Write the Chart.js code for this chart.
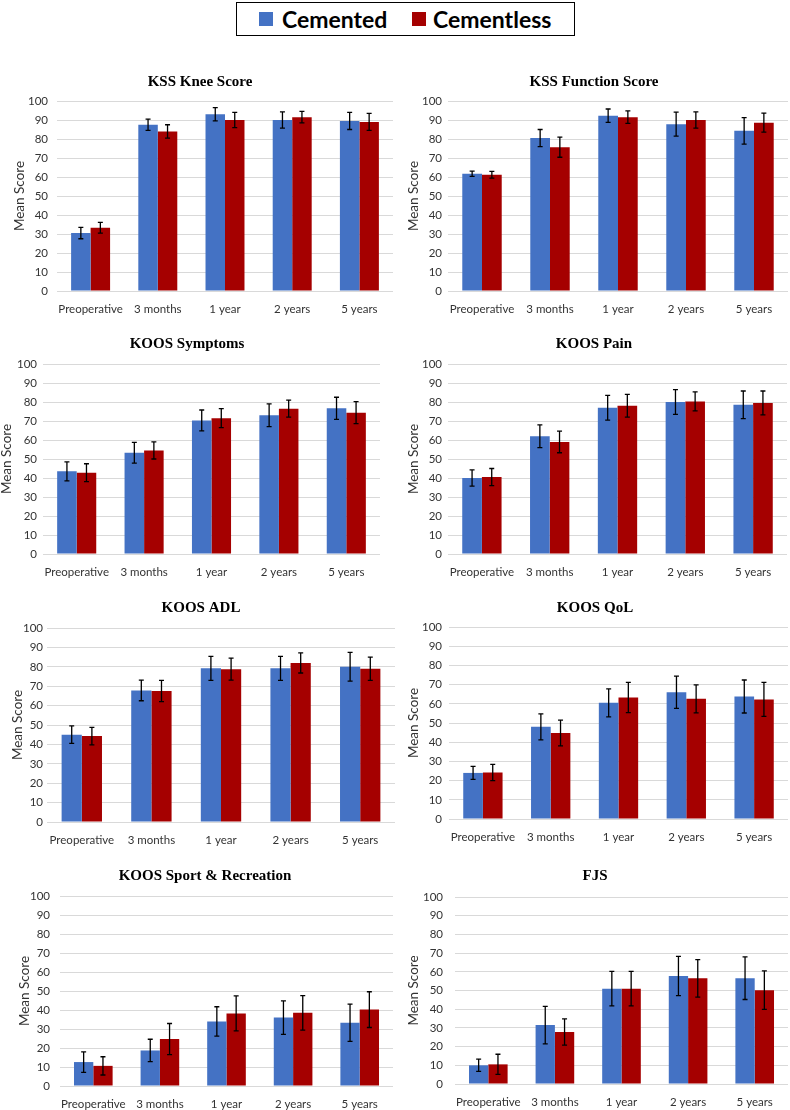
<!DOCTYPE html>
<html>
<head>
<meta charset="utf-8">
<script src="https://cdn.jsdelivr.net/npm/chart.js@4"></script>
<style>
body { margin: 0; background: #fff; width: 790px; height: 1110px; position: relative; overflow: hidden; }
.panel { position: absolute; }
#legend { position: absolute; left: 236px; top: 2px; width: 337px; height: 32px; border: 1px solid #000;
  font-family: Lato, sans-serif; font-weight: bold; font-size: 23px; color: #000; }
#legend span { position: absolute; }
.sw { width: 14px; height: 14px; top: 9px; }
.lb { top: 0px; line-height: 32px; }
</style>
</head>
<body>
<div id="legend">
  <span class="sw" style="left:22px;background:#4472C4"></span><span class="lb" style="left:45px">Cemented</span>
  <span class="sw" style="left:175px;background:#A50000"></span><span class="lb" style="left:196px">Cementless</span>
</div>
<script>
var categories = ['Preoperative', '3 months', '1 year', '2 years', '5 years'];

// KSS Knee Score
var kneeCem = [30.5, 87.5, 93, 90, 89.5];
var kneeCemErr = [3, 3, 3.5, 4.3, 4.5];
var kneeCl = [33.3, 84, 90, 91.5, 89];
var kneeClErr = [2.8, 3.5, 4, 3, 4.5];

// KSS Function Score
var funcCem = [61.7, 80.5, 92.3, 87.8, 84.3];
var funcCemErr = [1.4, 4.5, 3.5, 6.3, 7];
var funcCl = [61.2, 75.7, 91.5, 90, 88.6];
var funcClErr = [1.8, 5.3, 3.3, 4.3, 5];

// KOOS Symptoms
var sympCem = [43.5, 53.3, 70.3, 73, 76.7];
var sympCemErr = [5, 5.5, 5.5, 6, 5.8];
var sympCl = [42.8, 54.5, 71.5, 76.5, 74.4];
var sympClErr = [4.7, 4.5, 5, 4.5, 5.8];

// KOOS Pain
var painCem = [40, 62, 77, 80, 78.5];
var painCemErr = [4.3, 6, 6.5, 6.5, 7.3];
var painCl = [40.5, 59, 78, 80.3, 79.5];
var painClErr = [4.5, 5.7, 6, 5, 6.3];

// KOOS ADL
var adlCem = [45, 67.8, 79.2, 79.2, 80];
var adlCemErr = [4.5, 5.3, 6.2, 6.2, 7.4];
var adlCl = [44.3, 67.5, 78.8, 82, 79];
var adlClErr = [4.5, 5.5, 5.7, 5.2, 6];

// KOOS QoL
var qolCem = [24, 48, 60.5, 66, 63.8];
var qolCemErr = [3.4, 6.8, 7.3, 8.4, 8.6];
var qolCl = [24.2, 44.8, 63.3, 62.6, 62.3];
var qolClErr = [4.2, 6.7, 7.9, 7.3, 8.9];

// KOOS Sport & Recreation
var sportCem = [12.6, 18.7, 34, 36, 33.3];
var sportCemErr = [5.4, 5.9, 7.7, 8.8, 9.8];
var sportCl = [10.6, 24.7, 38.2, 38.5, 40.2];
var sportClErr = [4.8, 8.2, 9.2, 9.1, 9.4];

// FJS
var fjsCem = [10, 31.5, 51, 57.8, 56.6];
var fjsCemErr = [3.3, 10, 9.2, 10.5, 11.4];
var fjsCl = [10.5, 27.8, 51, 56.5, 50.2];
var fjsClErr = [5.4, 7, 9.2, 10, 10.3];

// plot left, plot right, plot top, plot bottom, title centre x, title centre y, y-title centre x, y tick gap
var layout = [
  [57, 393, 101, 291, 201, 82, 20, 9],
  [448, 788, 101, 291, 595, 82, 414, 6],
  [43, 380, 364, 554, 188, 344, 7, 6],
  [448, 787, 364, 554, 595, 344, 414, 6],
  [47, 395, 628, 822, 202, 608, 18, 4],
  [449, 788, 627, 819, 596, 608, 414, 7],
  [60, 393, 896, 1086, 206, 876, 25, 10],
  [455, 788, 897, 1084, 596, 876, 414, 12]
];

// draws the +/- error bars on top of each bar
var errorBars = {
  id: 'errorBars',
  afterDatasetsDraw: function(chart) {
    var ctx = chart.ctx, y = chart.scales.y;
    ctx.save();
    ctx.strokeStyle = '#000';
    ctx.lineWidth = 1.3;
    chart.data.datasets.forEach(function(ds, i) {
      chart.getDatasetMeta(i).data.forEach(function(bar, j) {
        var hi = y.getPixelForValue(ds.data[j] + ds.errors[j]);
        var lo = y.getPixelForValue(ds.data[j] - ds.errors[j]);
        ctx.beginPath();
        ctx.moveTo(bar.x, hi); ctx.lineTo(bar.x, lo);
        ctx.moveTo(bar.x - 2.5, hi); ctx.lineTo(bar.x + 2.5, hi);
        ctx.moveTo(bar.x - 2.5, lo); ctx.lineTo(bar.x + 2.5, lo);
        ctx.stroke();
      });
    });
    ctx.restore();
  }
};

function makeChart(i, title, cem, cemErr, cl, clErr) {
  var L = layout[i];
  var right = L[1] + 2;
  var left = 2 * L[4] - right;
  var top = L[5] - 12;
  var bottom = L[3] + 24;

  var div = document.createElement('div');
  div.className = 'panel';
  div.style.left = left + 'px';
  div.style.top = top + 'px';
  div.style.width = (right - left) + 'px';
  div.style.height = (bottom - top) + 'px';
  var canvas = document.createElement('canvas');
  div.appendChild(canvas);
  document.body.appendChild(div);

  var tickFont = {family: 'Lato', size: 11.5};

  new Chart(canvas.getContext('2d'), {
    type: 'bar',
    data: {
      labels: categories,
      datasets: [
        {label: 'Cemented', data: cem, errors: cemErr, backgroundColor: '#4472C4',
         categoryPercentage: 0.58, barPercentage: 1},
        {label: 'Cementless', data: cl, errors: clErr, backgroundColor: '#A50000',
         categoryPercentage: 0.58, barPercentage: 1}
      ]
    },
    options: {
      responsive: true,
      maintainAspectRatio: false,
      animation: false,
      layout: {padding: {left: 0, right: 2, top: 0, bottom: 0}},
      plugins: {
        legend: {display: false},
        tooltip: {enabled: false},
        title: {
          display: true, text: title, color: '#000',
          font: {family: 'Liberation Serif', weight: 'bold', size: 15},
          padding: {top: 3, bottom: L[2] - top - 21}
        }
      },
      scales: {
        x: {
          grid: {display: false},
          border: {display: false},
          ticks: {font: tickFont, color: '#333', padding: 3, maxRotation: 0, autoSkip: false},
          afterFit: function(s) { s.height = bottom - L[3]; }
        },
        y: {
          min: 0, max: 100,
          grid: {color: '#D9D9D9', drawTicks: false},
          border: {display: false},
          ticks: {stepSize: 10, font: tickFont, color: '#333', padding: L[7]},
          title: {display: true, text: 'Mean Score', color: '#333',
                  font: {family: 'Lato', size: 13.5},
                  padding: {top: L[6] - left - 8.1, bottom: 0}},
          afterFit: function(s) { s.width = L[0] - left; }
        }
      }
    },
    plugins: [errorBars]
  });
}

makeChart(0, 'KSS Knee Score', kneeCem, kneeCemErr, kneeCl, kneeClErr);
makeChart(1, 'KSS Function Score', funcCem, funcCemErr, funcCl, funcClErr);
makeChart(2, 'KOOS Symptoms', sympCem, sympCemErr, sympCl, sympClErr);
makeChart(3, 'KOOS Pain', painCem, painCemErr, painCl, painClErr);
makeChart(4, 'KOOS ADL', adlCem, adlCemErr, adlCl, adlClErr);
makeChart(5, 'KOOS QoL', qolCem, qolCemErr, qolCl, qolClErr);
makeChart(6, 'KOOS Sport & Recreation', sportCem, sportCemErr, sportCl, sportClErr);
makeChart(7, 'FJS', fjsCem, fjsCemErr, fjsCl, fjsClErr);
</script>
</body>
</html>
